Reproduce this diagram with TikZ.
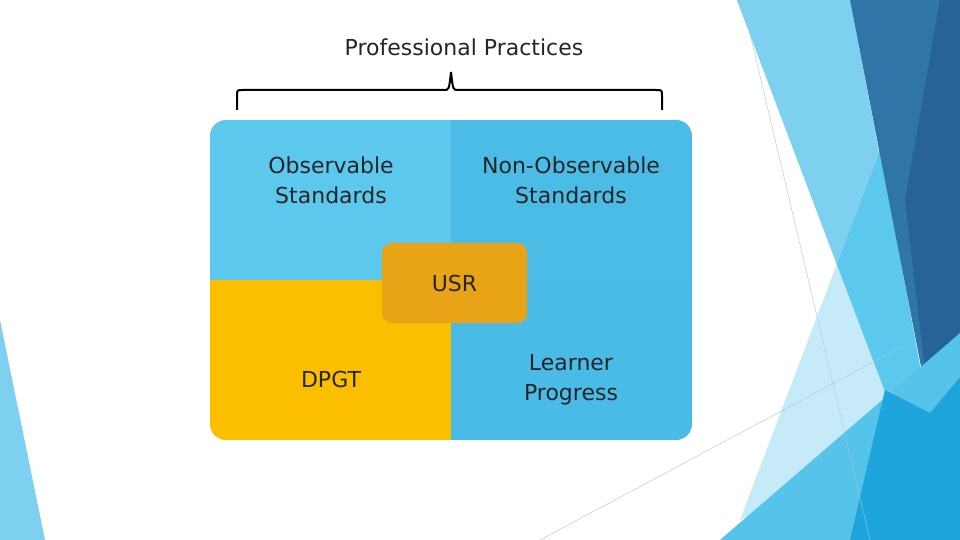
\documentclass[tikz,border=0pt]{standalone}
\usepackage{fontspec}
\setmainfont{DejaVu Sans}
\begin{document}
\begin{tikzpicture}[x=1pt,y=-1pt,
  lbl/.style={font=\fontsize{22}{30}\selectfont,align=center,text=black!85}]
\definecolor{q1}{HTML}{5CC8EE}\definecolor{q2}{HTML}{4BBCE6}
\definecolor{q3}{HTML}{FBBF00}\definecolor{q4}{HTML}{4ABAE6}
\definecolor{usr}{HTML}{E8A317}
\definecolor{dk1}{HTML}{2F75A8}\definecolor{dk2}{HTML}{276399}
\definecolor{lb}{HTML}{7DD0F0}\definecolor{pb}{HTML}{C6EAF8}
\definecolor{mb}{HTML}{55C3EA}\definecolor{bb}{HTML}{1EA6DC}
\useasboundingbox (0,0) rectangle (960,540);
\fill[white] (0,0) rectangle (960,540);
% decorations
\fill[lb] (737,0) -- (850,0) -- (930,420) -- (880,540) -- (941,540) -- cycle;
\fill[lb] (737,0) -- (850,0) -- (941,540) -- cycle;
\fill[pb] (880,150) -- (930,420) -- (740,520) -- cycle;
\begin{scope}
\clip (737,0) -- (960,0) -- (960,540) -- (941,540) -- cycle;
\fill[q1] (880,150) -- (930,420) -- (740,520) -- cycle;
\end{scope}
\fill[dk1] (850,0) -- (960,0) -- (960,377) -- (930,413) -- cycle;
\fill[dk2] (940,0) -- (960,0) -- (960,377) -- (930,413) -- (905,200) -- cycle;
\fill[mb] (720,540) -- (960,333) -- (960,540) -- cycle;
\fill[bb] (850,540) -- (885,390) -- (930,413) -- (960,377) -- (960,540) -- cycle;
\fill[lb] (0,320) -- (45,540) -- (0,540) -- cycle;
\draw[lb!80!black!60,line width=0.4pt] (742,0) -- (870,540);
\draw[lb!80!black!60,line width=0.4pt] (540,540) -- (905,345);
% quadrants
\begin{scope}
\clip[rounded corners=16] (210,120) rectangle (692,440);
\fill[q1] (210,120) rectangle (451,280);
\fill[q2] (451,120) rectangle (692,280);
\fill[q3] (210,280) rectangle (451,440);
\fill[q4] (451,280) rectangle (692,440);
\end{scope}
\node[lbl] (obs) at (331,180) {Observable\\Standards};
\node[lbl] (nobs) at (571,180) {Non-Observable\\Standards};
\node[lbl] (dpgt) at (331,379) {DPGT};
\node[lbl] (lp) at (571,380) {Learner\\Progress};
\node[fill=usr,rounded corners=10,minimum width=145,minimum height=80,
  lbl,anchor=center] (usr) at (454.5,283) {USR};
% brace
\coordinate (bl) at (237,110); \coordinate (br) at (662,110);
\draw[line width=2pt] (bl) -- (237,96) .. controls (237,90) .. (243,90) -- (444,90)
  .. controls (449,90) .. (451,72);
\draw[line width=2pt] (br) -- (662,96) .. controls (662,90) .. (656,90) -- (458,90)
  .. controls (453,90) .. (451,72);
\node[lbl] (pp) at (464,47) {Professional Practices};
\end{tikzpicture}
\end{document}
